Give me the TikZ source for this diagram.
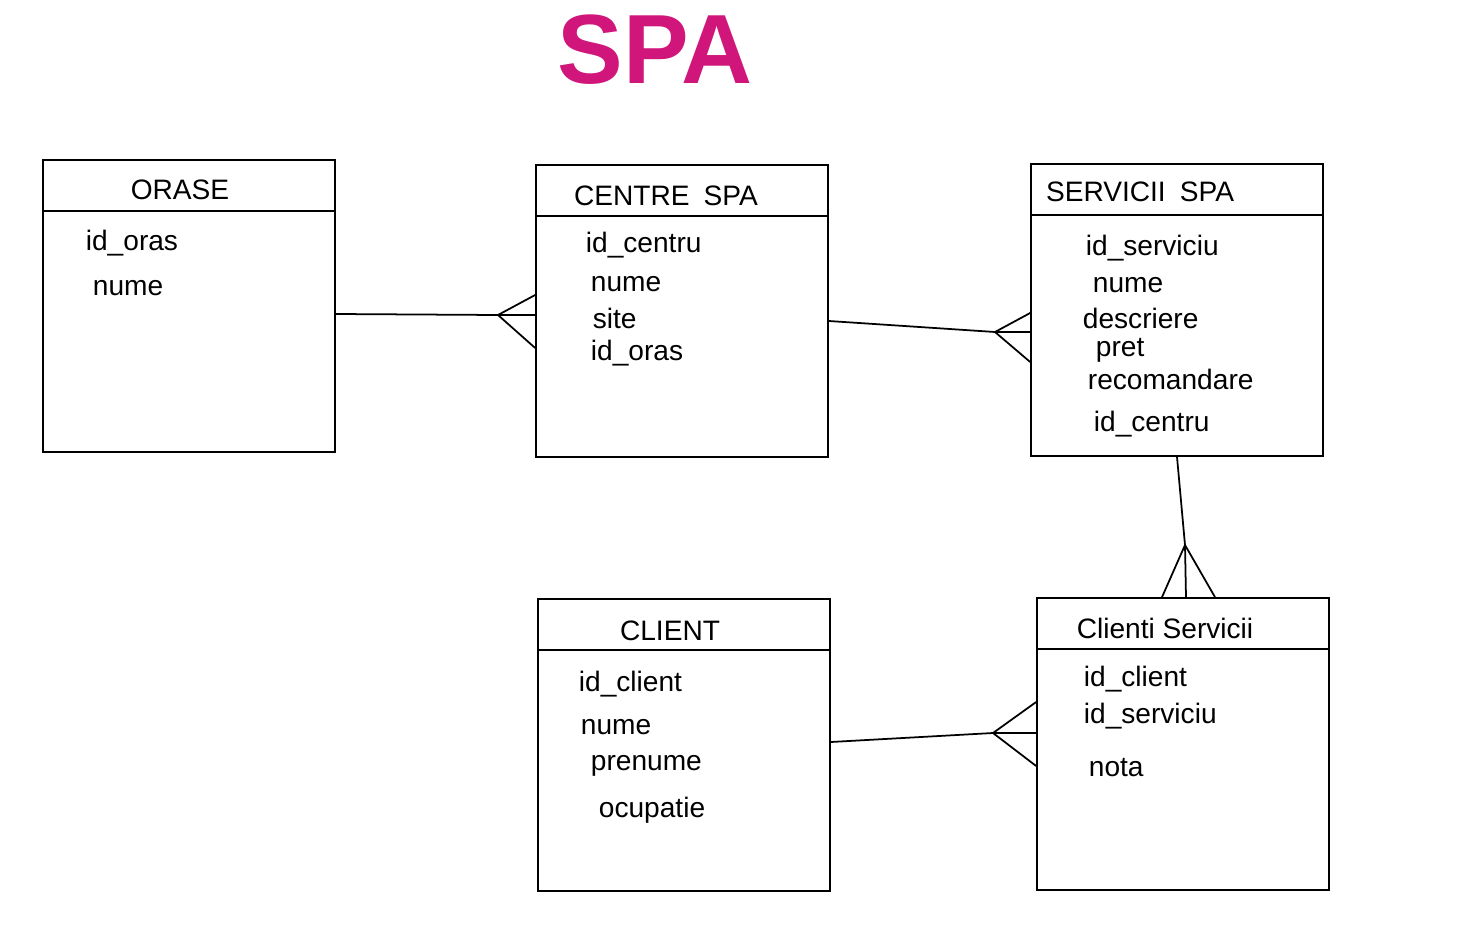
\documentclass[tikz,border=0pt]{standalone}
\usepackage{fontspec}
\setmainfont{Liberation Sans}
\usetikzlibrary{positioning}
\definecolor{spapink}{RGB}{208,22,122}
\begin{document}
\begin{tikzpicture}[x=0.02cm, y=-0.02cm, line width=1pt,
    entity/.style={draw, minimum width=5.84cm, minimum height=5.84cm, inner sep=0pt},
    head/.style={font=\fontsize{16}{19}\selectfont},
    attr/.style={anchor=west, inner sep=0pt, font=\fontsize{16}{19}\selectfont},
    title/.style={text=spapink, font=\fontsize{56}{60}\selectfont\bfseries}]
   \useasboundingbox (0,0) rectangle (1471,943);
   \node[title] (spa) at (655,50) {SPA};
   % tables
   \node[entity] (orase)    at (189,306)  {};
   \node[entity] (centre)   at (682,311)  {};
   \node[entity] (servicii) at (1177,310) {};
   \node[entity] (client)   at (684,745)  {};
   \node[entity] (clserv)   at (1183,744) {};
   % header lines
   \draw ([yshift=-1.04cm]orase.north west)    -- ([yshift=-1.04cm]orase.north east);
   \draw ([yshift=-1.04cm]centre.north west)   -- ([yshift=-1.04cm]centre.north east);
   \draw ([yshift=-1.04cm]servicii.north west) -- ([yshift=-1.04cm]servicii.north east);
   \draw ([yshift=-1.04cm]client.north west)   -- ([yshift=-1.04cm]client.north east);
   \draw ([yshift=-1.04cm]clserv.north west)   -- ([yshift=-1.04cm]clserv.north east);
   % titles
   \node[head] (orasehead)    at (180,190)  {ORASE};
   \node[head] (centrehead)   at (666,196)  {CENTRE\enspace SPA};
   \node[head] (serviciihead) at (1140,192) {SERVICII\enspace SPA};
   \node[head] (clienthead)   at (670,631)  {CLIENT};
   \node[head] (clservhead)   at (1165,628) {Clienti Servicii};
   % ORASE
   \node[attr] (oraseid)   at (85,243) {id\_oras};
   \node[attr] (orasenume) at (92,288) {nume};
   % CENTRE SPA
   \node[attr] (centreid)     at (585,245) {id\_centru};
   \node[attr] (centrenume)   at (590,284) {nume};
   \node[attr] (centresite)   at (592,318) {site};
   \node[attr] (centreoras)   at (590,353) {id\_oras};
   % SERVICII SPA
   \node[attr] (serviciiid)     at (1085,248) {id\_serviciu};
   \node[attr] (serviciinume)   at (1092,285) {nume};
   \node[attr] (serviciidesc)   at (1082,318) {descriere};
   \node[attr] (serviciipret)   at (1095,350) {pret};
   \node[attr] (serviciirec)    at (1087,379) {recomandare};
   \node[attr] (serviciicentru) at (1093,424) {id\_centru};
   % CLIENT
   \node[attr] (clientid)   at (578,684) {id\_client};
   \node[attr] (clientnume) at (580,727) {nume};
   \node[attr] (clientpren) at (590,766) {prenume};
   \node[attr] (clientocup) at (598,810) {ocupatie};
   % Clienti Servicii
   \node[attr] (clservclient) at (1083,679) {id\_client};
   \node[attr] (clservserv)   at (1083,716) {id\_serviciu};
   \node[attr] (clservnota)   at (1088,768) {nota};
   % crow's foot apexes
   \coordinate (ocfoot) at (498,315);
   \coordinate (csfoot) at (995,332);
   \coordinate (sfoot)  at (1185,545);
   \coordinate (cfoot)  at (993,733);
   % relations
   \draw ([yshift=-0.16cm]orase.east) -- (ocfoot) -- ([yshift=-0.08cm]centre.west);
   \draw (ocfoot) -- ([yshift=0.32cm]centre.west);
   \draw (ocfoot) -- ([yshift=-0.74cm]centre.west);
   \draw ([yshift=-0.2cm]centre.east) -- (csfoot) -- ([yshift=-0.44cm]servicii.west);
   \draw (csfoot) -- ([yshift=-0.06cm]servicii.west);
   \draw (csfoot) -- ([yshift=-1.04cm]servicii.west);
   \draw (servicii.south) -- (sfoot) -- ([xshift=0.06cm]clserv.north);
   \draw (sfoot) -- ([xshift=-0.42cm]clserv.north);
   \draw (sfoot) -- ([xshift=0.64cm]clserv.north);
   \draw ([yshift=0.06cm]client.east) -- (cfoot) -- ([yshift=0.22cm]clserv.west);
   \draw (cfoot) -- ([yshift=0.84cm]clserv.west);
   \draw (cfoot) -- ([yshift=-0.44cm]clserv.west);
 \end{tikzpicture}
\end{document}
